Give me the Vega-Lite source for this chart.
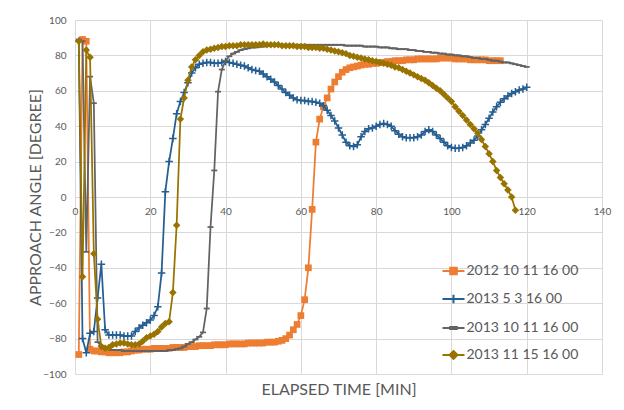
{
  "$schema": "https://vega.github.io/schema/vega-lite/v6.json",
  "width": 527,
  "height": 354,
  "autosize": {"type": "none"},
  "padding": {"left": 75, "top": 20, "right": 22, "bottom": 36},
  "background": "white",
  "config": {
    "view": {"stroke": null},
    "font": "Lato",
    "axis": {
      "gridColor": "#d9d9d9", "gridWidth": 1, "domain": false, "ticks": false,
      "labelColor": "#595959", "labelFontSize": 10, "labelFont": "Lato",
      "titleColor": "#595959", "titleFontSize": 16, "titleFontWeight": "normal", "titleFont": "Lato",
      "labelFlush": false, "labelOverlap": false, "labelBound": false
    },
    "legend": {
      "labelColor": "#595959", "labelFontSize": 14, "labelFont": "Lato",
      "symbolSize": 484, "symbolStrokeWidth": 2, "rowPadding": 8, "labelOffset": 1, "padding": 0
    }
  },
  "datasets": {
    "d": [
      {"s":"2012 10 11 16 00","t":1,"v":-89},{"s":"2012 10 11 16 00","t":2,"v":89},{"s":"2012 10 11 16 00","t":3,"v":88},{"s":"2012 10 11 16 00","t":4,"v":-86},{"s":"2012 10 11 16 00","t":5,"v":-87},{"s":"2012 10 11 16 00","t":6,"v":-87},{"s":"2012 10 11 16 00","t":7,"v":-87.5},{"s":"2012 10 11 16 00","t":8,"v":-87.5},{"s":"2012 10 11 16 00","t":9,"v":-88},{"s":"2012 10 11 16 00","t":10,"v":-88},
      {"s":"2012 10 11 16 00","t":11,"v":-88},{"s":"2012 10 11 16 00","t":12,"v":-88},{"s":"2012 10 11 16 00","t":13,"v":-87.5},{"s":"2012 10 11 16 00","t":14,"v":-87.5},{"s":"2012 10 11 16 00","t":15,"v":-87},{"s":"2012 10 11 16 00","t":16,"v":-86.5},{"s":"2012 10 11 16 00","t":17,"v":-86.5},{"s":"2012 10 11 16 00","t":18,"v":-86},{"s":"2012 10 11 16 00","t":19,"v":-86},{"s":"2012 10 11 16 00","t":20,"v":-86},
      {"s":"2012 10 11 16 00","t":21,"v":-85.5},{"s":"2012 10 11 16 00","t":22,"v":-85.5},{"s":"2012 10 11 16 00","t":23,"v":-85.5},{"s":"2012 10 11 16 00","t":24,"v":-85.5},{"s":"2012 10 11 16 00","t":25,"v":-85.5},{"s":"2012 10 11 16 00","t":26,"v":-85},{"s":"2012 10 11 16 00","t":27,"v":-85},{"s":"2012 10 11 16 00","t":28,"v":-85},{"s":"2012 10 11 16 00","t":29,"v":-85},{"s":"2012 10 11 16 00","t":30,"v":-84.5},
      {"s":"2012 10 11 16 00","t":31,"v":-84.5},{"s":"2012 10 11 16 00","t":32,"v":-84.5},{"s":"2012 10 11 16 00","t":33,"v":-84},{"s":"2012 10 11 16 00","t":34,"v":-84},{"s":"2012 10 11 16 00","t":35,"v":-84},{"s":"2012 10 11 16 00","t":36,"v":-84},{"s":"2012 10 11 16 00","t":37,"v":-83.5},{"s":"2012 10 11 16 00","t":38,"v":-83.5},{"s":"2012 10 11 16 00","t":39,"v":-83.5},{"s":"2012 10 11 16 00","t":40,"v":-83.5},
      {"s":"2012 10 11 16 00","t":41,"v":-83},{"s":"2012 10 11 16 00","t":42,"v":-83},{"s":"2012 10 11 16 00","t":43,"v":-83},{"s":"2012 10 11 16 00","t":44,"v":-83},{"s":"2012 10 11 16 00","t":45,"v":-83},{"s":"2012 10 11 16 00","t":46,"v":-82.5},{"s":"2012 10 11 16 00","t":47,"v":-82.5},{"s":"2012 10 11 16 00","t":48,"v":-82.5},{"s":"2012 10 11 16 00","t":49,"v":-82.5},{"s":"2012 10 11 16 00","t":50,"v":-82.5},
      {"s":"2012 10 11 16 00","t":51,"v":-82},{"s":"2012 10 11 16 00","t":52,"v":-82},{"s":"2012 10 11 16 00","t":53,"v":-82},{"s":"2012 10 11 16 00","t":54,"v":-81.5},{"s":"2012 10 11 16 00","t":55,"v":-81},{"s":"2012 10 11 16 00","t":56,"v":-80},{"s":"2012 10 11 16 00","t":57,"v":-78},{"s":"2012 10 11 16 00","t":58,"v":-75},{"s":"2012 10 11 16 00","t":59,"v":-72},{"s":"2012 10 11 16 00","t":60,"v":-67},
      {"s":"2012 10 11 16 00","t":61,"v":-58},{"s":"2012 10 11 16 00","t":62,"v":-40},{"s":"2012 10 11 16 00","t":63,"v":-7},{"s":"2012 10 11 16 00","t":64,"v":31},{"s":"2012 10 11 16 00","t":65,"v":44},{"s":"2012 10 11 16 00","t":66,"v":51},{"s":"2012 10 11 16 00","t":67,"v":56},{"s":"2012 10 11 16 00","t":68,"v":61},{"s":"2012 10 11 16 00","t":69,"v":65},{"s":"2012 10 11 16 00","t":70,"v":68},
      {"s":"2012 10 11 16 00","t":71,"v":70.5},{"s":"2012 10 11 16 00","t":72,"v":72},{"s":"2012 10 11 16 00","t":73,"v":73},{"s":"2012 10 11 16 00","t":74,"v":73.5},{"s":"2012 10 11 16 00","t":75,"v":74},{"s":"2012 10 11 16 00","t":76,"v":74.5},{"s":"2012 10 11 16 00","t":77,"v":75},{"s":"2012 10 11 16 00","t":78,"v":75},{"s":"2012 10 11 16 00","t":79,"v":75.5},{"s":"2012 10 11 16 00","t":80,"v":75.5},
      {"s":"2012 10 11 16 00","t":81,"v":76},{"s":"2012 10 11 16 00","t":82,"v":76},{"s":"2012 10 11 16 00","t":83,"v":76.5},{"s":"2012 10 11 16 00","t":84,"v":76.5},{"s":"2012 10 11 16 00","t":85,"v":77},{"s":"2012 10 11 16 00","t":86,"v":77},{"s":"2012 10 11 16 00","t":87,"v":77},{"s":"2012 10 11 16 00","t":88,"v":77.5},{"s":"2012 10 11 16 00","t":89,"v":77.5},{"s":"2012 10 11 16 00","t":90,"v":77.5},
      {"s":"2012 10 11 16 00","t":91,"v":78},{"s":"2012 10 11 16 00","t":92,"v":78},{"s":"2012 10 11 16 00","t":93,"v":78},{"s":"2012 10 11 16 00","t":94,"v":78},{"s":"2012 10 11 16 00","t":95,"v":78},{"s":"2012 10 11 16 00","t":96,"v":78},{"s":"2012 10 11 16 00","t":97,"v":78.5},{"s":"2012 10 11 16 00","t":98,"v":78.5},{"s":"2012 10 11 16 00","t":99,"v":78.5},{"s":"2012 10 11 16 00","t":100,"v":78.5},
      {"s":"2012 10 11 16 00","t":101,"v":78},{"s":"2012 10 11 16 00","t":102,"v":78},{"s":"2012 10 11 16 00","t":103,"v":78},{"s":"2012 10 11 16 00","t":104,"v":78},{"s":"2012 10 11 16 00","t":105,"v":77.5},{"s":"2012 10 11 16 00","t":106,"v":77.5},{"s":"2012 10 11 16 00","t":107,"v":77.5},{"s":"2012 10 11 16 00","t":108,"v":77.5},{"s":"2012 10 11 16 00","t":109,"v":77.5},{"s":"2012 10 11 16 00","t":110,"v":77},
      {"s":"2012 10 11 16 00","t":111,"v":77},{"s":"2012 10 11 16 00","t":112,"v":77},{"s":"2012 10 11 16 00","t":113,"v":77},

      {"s":"2013 5 3 16 00","t":1,"v":88},{"s":"2013 5 3 16 00","t":2,"v":-80},{"s":"2013 5 3 16 00","t":3,"v":-88},{"s":"2013 5 3 16 00","t":4,"v":-77},{"s":"2013 5 3 16 00","t":5,"v":-76},{"s":"2013 5 3 16 00","t":6,"v":-57},{"s":"2013 5 3 16 00","t":7,"v":-38},{"s":"2013 5 3 16 00","t":8,"v":-75},{"s":"2013 5 3 16 00","t":9,"v":-78},{"s":"2013 5 3 16 00","t":10,"v":-78},
      {"s":"2013 5 3 16 00","t":11,"v":-78},{"s":"2013 5 3 16 00","t":12,"v":-78},{"s":"2013 5 3 16 00","t":13,"v":-78.5},{"s":"2013 5 3 16 00","t":14,"v":-78.5},{"s":"2013 5 3 16 00","t":15,"v":-78.5},{"s":"2013 5 3 16 00","t":16,"v":-76},{"s":"2013 5 3 16 00","t":17,"v":-74},{"s":"2013 5 3 16 00","t":18,"v":-72.5},{"s":"2013 5 3 16 00","t":19,"v":-71},{"s":"2013 5 3 16 00","t":20,"v":-69.5},
      {"s":"2013 5 3 16 00","t":21,"v":-67},{"s":"2013 5 3 16 00","t":22,"v":-62},{"s":"2013 5 3 16 00","t":23,"v":-43},{"s":"2013 5 3 16 00","t":24,"v":3},{"s":"2013 5 3 16 00","t":25,"v":20},{"s":"2013 5 3 16 00","t":26,"v":33},{"s":"2013 5 3 16 00","t":27,"v":47},{"s":"2013 5 3 16 00","t":28,"v":54},{"s":"2013 5 3 16 00","t":29,"v":59},{"s":"2013 5 3 16 00","t":30,"v":64.5},
      {"s":"2013 5 3 16 00","t":31,"v":70},{"s":"2013 5 3 16 00","t":32,"v":73},{"s":"2013 5 3 16 00","t":33,"v":75},{"s":"2013 5 3 16 00","t":34,"v":75.5},{"s":"2013 5 3 16 00","t":35,"v":76},{"s":"2013 5 3 16 00","t":36,"v":76},{"s":"2013 5 3 16 00","t":37,"v":75.5},{"s":"2013 5 3 16 00","t":38,"v":75.5},{"s":"2013 5 3 16 00","t":39,"v":76},{"s":"2013 5 3 16 00","t":40,"v":76.5},
      {"s":"2013 5 3 16 00","t":41,"v":76},{"s":"2013 5 3 16 00","t":42,"v":75.5},{"s":"2013 5 3 16 00","t":43,"v":75},{"s":"2013 5 3 16 00","t":44,"v":74.5},{"s":"2013 5 3 16 00","t":45,"v":74},{"s":"2013 5 3 16 00","t":46,"v":73},{"s":"2013 5 3 16 00","t":47,"v":72},{"s":"2013 5 3 16 00","t":48,"v":71.5},{"s":"2013 5 3 16 00","t":49,"v":71},{"s":"2013 5 3 16 00","t":50,"v":69.5},
      {"s":"2013 5 3 16 00","t":51,"v":68},{"s":"2013 5 3 16 00","t":52,"v":66.5},{"s":"2013 5 3 16 00","t":53,"v":65},{"s":"2013 5 3 16 00","t":54,"v":63},{"s":"2013 5 3 16 00","t":55,"v":61},{"s":"2013 5 3 16 00","t":56,"v":59},{"s":"2013 5 3 16 00","t":57,"v":57.5},{"s":"2013 5 3 16 00","t":58,"v":56},{"s":"2013 5 3 16 00","t":59,"v":55},{"s":"2013 5 3 16 00","t":60,"v":54.5},
      {"s":"2013 5 3 16 00","t":61,"v":54.5},{"s":"2013 5 3 16 00","t":62,"v":54},{"s":"2013 5 3 16 00","t":63,"v":54},{"s":"2013 5 3 16 00","t":64,"v":53.5},{"s":"2013 5 3 16 00","t":65,"v":53},{"s":"2013 5 3 16 00","t":66,"v":51.5},{"s":"2013 5 3 16 00","t":67,"v":49},{"s":"2013 5 3 16 00","t":68,"v":46},{"s":"2013 5 3 16 00","t":69,"v":43},{"s":"2013 5 3 16 00","t":70,"v":39},
      {"s":"2013 5 3 16 00","t":71,"v":35},{"s":"2013 5 3 16 00","t":72,"v":31},{"s":"2013 5 3 16 00","t":73,"v":29},{"s":"2013 5 3 16 00","t":74,"v":28.5},{"s":"2013 5 3 16 00","t":75,"v":29.5},{"s":"2013 5 3 16 00","t":76,"v":34},{"s":"2013 5 3 16 00","t":77,"v":37},{"s":"2013 5 3 16 00","t":78,"v":38.5},{"s":"2013 5 3 16 00","t":79,"v":39},{"s":"2013 5 3 16 00","t":80,"v":40},
      {"s":"2013 5 3 16 00","t":81,"v":41},{"s":"2013 5 3 16 00","t":82,"v":41.5},{"s":"2013 5 3 16 00","t":83,"v":41},{"s":"2013 5 3 16 00","t":84,"v":40},{"s":"2013 5 3 16 00","t":85,"v":37.5},{"s":"2013 5 3 16 00","t":86,"v":35.5},{"s":"2013 5 3 16 00","t":87,"v":34},{"s":"2013 5 3 16 00","t":88,"v":33.5},{"s":"2013 5 3 16 00","t":89,"v":33.5},{"s":"2013 5 3 16 00","t":90,"v":33.5},
      {"s":"2013 5 3 16 00","t":91,"v":34},{"s":"2013 5 3 16 00","t":92,"v":35},{"s":"2013 5 3 16 00","t":93,"v":37},{"s":"2013 5 3 16 00","t":94,"v":38},{"s":"2013 5 3 16 00","t":95,"v":37},{"s":"2013 5 3 16 00","t":96,"v":35},{"s":"2013 5 3 16 00","t":97,"v":33},{"s":"2013 5 3 16 00","t":98,"v":31},{"s":"2013 5 3 16 00","t":99,"v":29},{"s":"2013 5 3 16 00","t":100,"v":28},
      {"s":"2013 5 3 16 00","t":101,"v":27.5},{"s":"2013 5 3 16 00","t":102,"v":27.5},{"s":"2013 5 3 16 00","t":103,"v":28},{"s":"2013 5 3 16 00","t":104,"v":29},{"s":"2013 5 3 16 00","t":105,"v":30.5},{"s":"2013 5 3 16 00","t":106,"v":32},{"s":"2013 5 3 16 00","t":107,"v":34.5},{"s":"2013 5 3 16 00","t":108,"v":38},{"s":"2013 5 3 16 00","t":109,"v":41},{"s":"2013 5 3 16 00","t":110,"v":44.5},
      {"s":"2013 5 3 16 00","t":111,"v":48},{"s":"2013 5 3 16 00","t":112,"v":51},{"s":"2013 5 3 16 00","t":113,"v":53.5},{"s":"2013 5 3 16 00","t":114,"v":55.5},{"s":"2013 5 3 16 00","t":115,"v":57},{"s":"2013 5 3 16 00","t":116,"v":58.5},{"s":"2013 5 3 16 00","t":117,"v":59.5},{"s":"2013 5 3 16 00","t":118,"v":60.5},{"s":"2013 5 3 16 00","t":119,"v":61},{"s":"2013 5 3 16 00","t":120,"v":62},

      {"s":"2013 10 11 16 00","t":1,"v":89},{"s":"2013 10 11 16 00","t":2,"v":88},{"s":"2013 10 11 16 00","t":3,"v":-31},{"s":"2013 10 11 16 00","t":4,"v":68},{"s":"2013 10 11 16 00","t":5,"v":53},{"s":"2013 10 11 16 00","t":6,"v":-82},{"s":"2013 10 11 16 00","t":7,"v":-84},{"s":"2013 10 11 16 00","t":8,"v":-85},{"s":"2013 10 11 16 00","t":9,"v":-86},{"s":"2013 10 11 16 00","t":10,"v":-86.5},
      {"s":"2013 10 11 16 00","t":11,"v":-86.5},{"s":"2013 10 11 16 00","t":12,"v":-86.5},{"s":"2013 10 11 16 00","t":13,"v":-87},{"s":"2013 10 11 16 00","t":14,"v":-87},{"s":"2013 10 11 16 00","t":15,"v":-87},{"s":"2013 10 11 16 00","t":16,"v":-87},{"s":"2013 10 11 16 00","t":17,"v":-87},{"s":"2013 10 11 16 00","t":18,"v":-87},{"s":"2013 10 11 16 00","t":19,"v":-87},{"s":"2013 10 11 16 00","t":20,"v":-87},
      {"s":"2013 10 11 16 00","t":21,"v":-87},{"s":"2013 10 11 16 00","t":22,"v":-87},{"s":"2013 10 11 16 00","t":23,"v":-87},{"s":"2013 10 11 16 00","t":24,"v":-87},{"s":"2013 10 11 16 00","t":25,"v":-86.5},{"s":"2013 10 11 16 00","t":26,"v":-86.5},{"s":"2013 10 11 16 00","t":27,"v":-86},{"s":"2013 10 11 16 00","t":28,"v":-85.5},{"s":"2013 10 11 16 00","t":29,"v":-84.5},{"s":"2013 10 11 16 00","t":30,"v":-83},
      {"s":"2013 10 11 16 00","t":31,"v":-82},{"s":"2013 10 11 16 00","t":32,"v":-80.5},{"s":"2013 10 11 16 00","t":33,"v":-79},{"s":"2013 10 11 16 00","t":34,"v":-76.5},{"s":"2013 10 11 16 00","t":35,"v":-63},{"s":"2013 10 11 16 00","t":36,"v":-17},{"s":"2013 10 11 16 00","t":37,"v":15},{"s":"2013 10 11 16 00","t":38,"v":59.5},{"s":"2013 10 11 16 00","t":39,"v":72},{"s":"2013 10 11 16 00","t":40,"v":77},
      {"s":"2013 10 11 16 00","t":41,"v":79.5},{"s":"2013 10 11 16 00","t":42,"v":81},{"s":"2013 10 11 16 00","t":43,"v":82},{"s":"2013 10 11 16 00","t":44,"v":83},{"s":"2013 10 11 16 00","t":45,"v":83.5},{"s":"2013 10 11 16 00","t":46,"v":84},{"s":"2013 10 11 16 00","t":47,"v":84.5},{"s":"2013 10 11 16 00","t":48,"v":84.5},{"s":"2013 10 11 16 00","t":49,"v":85},{"s":"2013 10 11 16 00","t":50,"v":85},
      {"s":"2013 10 11 16 00","t":51,"v":85.5},{"s":"2013 10 11 16 00","t":52,"v":85.5},{"s":"2013 10 11 16 00","t":53,"v":86},{"s":"2013 10 11 16 00","t":54,"v":86},{"s":"2013 10 11 16 00","t":55,"v":86},{"s":"2013 10 11 16 00","t":56,"v":86},{"s":"2013 10 11 16 00","t":57,"v":86},{"s":"2013 10 11 16 00","t":58,"v":86},{"s":"2013 10 11 16 00","t":59,"v":86},{"s":"2013 10 11 16 00","t":60,"v":86},
      {"s":"2013 10 11 16 00","t":61,"v":86},{"s":"2013 10 11 16 00","t":62,"v":86},{"s":"2013 10 11 16 00","t":63,"v":86},{"s":"2013 10 11 16 00","t":64,"v":86},{"s":"2013 10 11 16 00","t":65,"v":86},{"s":"2013 10 11 16 00","t":66,"v":86},{"s":"2013 10 11 16 00","t":67,"v":86},{"s":"2013 10 11 16 00","t":68,"v":86},{"s":"2013 10 11 16 00","t":69,"v":86},{"s":"2013 10 11 16 00","t":70,"v":86},
      {"s":"2013 10 11 16 00","t":71,"v":86},{"s":"2013 10 11 16 00","t":72,"v":85.5},{"s":"2013 10 11 16 00","t":73,"v":85.5},{"s":"2013 10 11 16 00","t":74,"v":85.5},{"s":"2013 10 11 16 00","t":75,"v":85.5},{"s":"2013 10 11 16 00","t":76,"v":85.5},{"s":"2013 10 11 16 00","t":77,"v":85},{"s":"2013 10 11 16 00","t":78,"v":85},{"s":"2013 10 11 16 00","t":79,"v":85},{"s":"2013 10 11 16 00","t":80,"v":85},
      {"s":"2013 10 11 16 00","t":81,"v":84.5},{"s":"2013 10 11 16 00","t":82,"v":84.5},{"s":"2013 10 11 16 00","t":83,"v":84.5},{"s":"2013 10 11 16 00","t":84,"v":84},{"s":"2013 10 11 16 00","t":85,"v":84},{"s":"2013 10 11 16 00","t":86,"v":83.5},{"s":"2013 10 11 16 00","t":87,"v":83.5},{"s":"2013 10 11 16 00","t":88,"v":83.5},{"s":"2013 10 11 16 00","t":89,"v":83},{"s":"2013 10 11 16 00","t":90,"v":83},
      {"s":"2013 10 11 16 00","t":91,"v":82.5},{"s":"2013 10 11 16 00","t":92,"v":82.5},{"s":"2013 10 11 16 00","t":93,"v":82},{"s":"2013 10 11 16 00","t":94,"v":82},{"s":"2013 10 11 16 00","t":95,"v":81.5},{"s":"2013 10 11 16 00","t":96,"v":81.5},{"s":"2013 10 11 16 00","t":97,"v":81},{"s":"2013 10 11 16 00","t":98,"v":81},{"s":"2013 10 11 16 00","t":99,"v":80.5},{"s":"2013 10 11 16 00","t":100,"v":80.5},
      {"s":"2013 10 11 16 00","t":101,"v":80},{"s":"2013 10 11 16 00","t":102,"v":80},{"s":"2013 10 11 16 00","t":103,"v":79.5},{"s":"2013 10 11 16 00","t":104,"v":79.5},{"s":"2013 10 11 16 00","t":105,"v":79},{"s":"2013 10 11 16 00","t":106,"v":78.5},{"s":"2013 10 11 16 00","t":107,"v":78.5},{"s":"2013 10 11 16 00","t":108,"v":78},{"s":"2013 10 11 16 00","t":109,"v":78},{"s":"2013 10 11 16 00","t":110,"v":77.5},
      {"s":"2013 10 11 16 00","t":111,"v":77},{"s":"2013 10 11 16 00","t":112,"v":77},{"s":"2013 10 11 16 00","t":113,"v":76.5},{"s":"2013 10 11 16 00","t":114,"v":76},{"s":"2013 10 11 16 00","t":115,"v":76},{"s":"2013 10 11 16 00","t":116,"v":75.5},{"s":"2013 10 11 16 00","t":117,"v":75},{"s":"2013 10 11 16 00","t":118,"v":74.5},{"s":"2013 10 11 16 00","t":119,"v":74},{"s":"2013 10 11 16 00","t":120,"v":73.5},

      {"s":"2013 11 15 16 00","t":1,"v":88},{"s":"2013 11 15 16 00","t":2,"v":-45},{"s":"2013 11 15 16 00","t":3,"v":83},{"s":"2013 11 15 16 00","t":4,"v":79},{"s":"2013 11 15 16 00","t":5,"v":-32},{"s":"2013 11 15 16 00","t":6,"v":-69},{"s":"2013 11 15 16 00","t":7,"v":-84.5},{"s":"2013 11 15 16 00","t":8,"v":-85.5},{"s":"2013 11 15 16 00","t":9,"v":-85},{"s":"2013 11 15 16 00","t":10,"v":-83.5},
      {"s":"2013 11 15 16 00","t":11,"v":-83},{"s":"2013 11 15 16 00","t":12,"v":-82.5},{"s":"2013 11 15 16 00","t":13,"v":-82.5},{"s":"2013 11 15 16 00","t":14,"v":-83},{"s":"2013 11 15 16 00","t":15,"v":-83.5},{"s":"2013 11 15 16 00","t":16,"v":-83.5},{"s":"2013 11 15 16 00","t":17,"v":-83},{"s":"2013 11 15 16 00","t":18,"v":-81.5},{"s":"2013 11 15 16 00","t":19,"v":-79.5},{"s":"2013 11 15 16 00","t":20,"v":-78.5},
      {"s":"2013 11 15 16 00","t":21,"v":-77.5},{"s":"2013 11 15 16 00","t":22,"v":-76},{"s":"2013 11 15 16 00","t":23,"v":-73.5},{"s":"2013 11 15 16 00","t":24,"v":-71.5},{"s":"2013 11 15 16 00","t":25,"v":-70.5},{"s":"2013 11 15 16 00","t":26,"v":-54},{"s":"2013 11 15 16 00","t":27,"v":-16},{"s":"2013 11 15 16 00","t":28,"v":44},{"s":"2013 11 15 16 00","t":29,"v":56},{"s":"2013 11 15 16 00","t":30,"v":66},
      {"s":"2013 11 15 16 00","t":31,"v":73.5},{"s":"2013 11 15 16 00","t":32,"v":77.5},{"s":"2013 11 15 16 00","t":33,"v":80},{"s":"2013 11 15 16 00","t":34,"v":82},{"s":"2013 11 15 16 00","t":35,"v":83},{"s":"2013 11 15 16 00","t":36,"v":83.5},{"s":"2013 11 15 16 00","t":37,"v":84},{"s":"2013 11 15 16 00","t":38,"v":84.5},{"s":"2013 11 15 16 00","t":39,"v":85},{"s":"2013 11 15 16 00","t":40,"v":85},
      {"s":"2013 11 15 16 00","t":41,"v":85.5},{"s":"2013 11 15 16 00","t":42,"v":85.5},{"s":"2013 11 15 16 00","t":43,"v":85.5},{"s":"2013 11 15 16 00","t":44,"v":86},{"s":"2013 11 15 16 00","t":45,"v":86},{"s":"2013 11 15 16 00","t":46,"v":86},{"s":"2013 11 15 16 00","t":47,"v":86},{"s":"2013 11 15 16 00","t":48,"v":86},{"s":"2013 11 15 16 00","t":49,"v":86},{"s":"2013 11 15 16 00","t":50,"v":86.5},
      {"s":"2013 11 15 16 00","t":51,"v":86},{"s":"2013 11 15 16 00","t":52,"v":86},{"s":"2013 11 15 16 00","t":53,"v":86},{"s":"2013 11 15 16 00","t":54,"v":86},{"s":"2013 11 15 16 00","t":55,"v":85.5},{"s":"2013 11 15 16 00","t":56,"v":85.5},{"s":"2013 11 15 16 00","t":57,"v":85.5},{"s":"2013 11 15 16 00","t":58,"v":85.5},{"s":"2013 11 15 16 00","t":59,"v":85},{"s":"2013 11 15 16 00","t":60,"v":85},
      {"s":"2013 11 15 16 00","t":61,"v":85},{"s":"2013 11 15 16 00","t":62,"v":84.5},{"s":"2013 11 15 16 00","t":63,"v":84.5},{"s":"2013 11 15 16 00","t":64,"v":84.5},{"s":"2013 11 15 16 00","t":65,"v":84},{"s":"2013 11 15 16 00","t":66,"v":84},{"s":"2013 11 15 16 00","t":67,"v":83.5},{"s":"2013 11 15 16 00","t":68,"v":83},{"s":"2013 11 15 16 00","t":69,"v":82.5},{"s":"2013 11 15 16 00","t":70,"v":82},
      {"s":"2013 11 15 16 00","t":71,"v":81.5},{"s":"2013 11 15 16 00","t":72,"v":81},{"s":"2013 11 15 16 00","t":73,"v":80},{"s":"2013 11 15 16 00","t":74,"v":79.5},{"s":"2013 11 15 16 00","t":75,"v":79},{"s":"2013 11 15 16 00","t":76,"v":78.5},{"s":"2013 11 15 16 00","t":77,"v":78},{"s":"2013 11 15 16 00","t":78,"v":77.5},{"s":"2013 11 15 16 00","t":79,"v":77},{"s":"2013 11 15 16 00","t":80,"v":76.5},
      {"s":"2013 11 15 16 00","t":81,"v":76},{"s":"2013 11 15 16 00","t":82,"v":75.5},{"s":"2013 11 15 16 00","t":83,"v":75},{"s":"2013 11 15 16 00","t":84,"v":74.5},{"s":"2013 11 15 16 00","t":85,"v":73.5},{"s":"2013 11 15 16 00","t":86,"v":73},{"s":"2013 11 15 16 00","t":87,"v":72},{"s":"2013 11 15 16 00","t":88,"v":71},{"s":"2013 11 15 16 00","t":89,"v":70},{"s":"2013 11 15 16 00","t":90,"v":69},
      {"s":"2013 11 15 16 00","t":91,"v":68},{"s":"2013 11 15 16 00","t":92,"v":67},{"s":"2013 11 15 16 00","t":93,"v":66},{"s":"2013 11 15 16 00","t":94,"v":64.5},{"s":"2013 11 15 16 00","t":95,"v":63},{"s":"2013 11 15 16 00","t":96,"v":61.5},{"s":"2013 11 15 16 00","t":97,"v":60},{"s":"2013 11 15 16 00","t":98,"v":58},{"s":"2013 11 15 16 00","t":99,"v":56},{"s":"2013 11 15 16 00","t":100,"v":54},
      {"s":"2013 11 15 16 00","t":101,"v":51},{"s":"2013 11 15 16 00","t":102,"v":48.5},{"s":"2013 11 15 16 00","t":103,"v":46},{"s":"2013 11 15 16 00","t":104,"v":43.5},{"s":"2013 11 15 16 00","t":105,"v":41},{"s":"2013 11 15 16 00","t":106,"v":38.5},{"s":"2013 11 15 16 00","t":107,"v":36},{"s":"2013 11 15 16 00","t":108,"v":32.5},{"s":"2013 11 15 16 00","t":109,"v":28.5},{"s":"2013 11 15 16 00","t":110,"v":24.5},
      {"s":"2013 11 15 16 00","t":111,"v":20},{"s":"2013 11 15 16 00","t":112,"v":15},{"s":"2013 11 15 16 00","t":113,"v":11},{"s":"2013 11 15 16 00","t":114,"v":7.5},{"s":"2013 11 15 16 00","t":115,"v":4},{"s":"2013 11 15 16 00","t":116,"v":0},{"s":"2013 11 15 16 00","t":117,"v":-7.5}
    ]
  },
  "data": {"name": "d"},
  "encoding": {
    "x": {
      "field": "t", "type": "quantitative",
      "scale": {"domain": [0, 140], "nice": false, "zero": false},
      "axis": {
        "values": [0, 20, 40, 60, 80, 100, 120, 140], "grid": true,
        "title": "ELAPSED TIME [MIN]", "labelPadding": -168,
        "titleX": 263.5, "titleY": 15, "titleBaseline": "middle", "titleAlign": "center", "titleAnchor": null
      }
    },
    "y": {
      "field": "v", "type": "quantitative",
      "scale": {"domain": [-100, 100], "nice": false, "zero": false},
      "axis": {
        "values": [-100, -80, -60, -40, -20, 0, 20, 40, 60, 80, 100], "grid": true,
        "title": "APPROACH ANGLE [DEGREE]", "labelPadding": 9,
        "titleX": -40, "titleY": 177, "titleAngle": -90, "titleBaseline": "middle", "titleAlign": "center", "titleAnchor": null
      }
    }
  },
  "layer": [
    {
      "transform": [{"filter": "datum.s === '2012 10 11 16 00'"}],
      "mark": {"type": "line", "strokeWidth": 1.75, "color": "#ED7D31",
               "point": {"shape": "square", "filled": true, "size": 45, "opacity": 1, "color": "#ED7D31"}}
    },
    {
      "transform": [{"filter": "datum.s === '2013 5 3 16 00'"}],
      "mark": {"type": "line", "strokeWidth": 1.75, "color": "#255E91",
               "point": {"shape": "M-1,0H1M0,-1V1", "filled": false, "size": 56, "opacity": 1, "strokeWidth": 1.5, "color": "#255E91"}}
    },
    {
      "transform": [{"filter": "datum.s === '2013 10 11 16 00'"}],
      "mark": {"type": "line", "strokeWidth": 1.75, "color": "#636363",
               "point": {"shape": "M-1,0H1", "filled": false, "size": 36, "opacity": 1, "strokeWidth": 1.75, "color": "#636363"}}
    },
    {
      "transform": [{"filter": "datum.s === '2013 11 15 16 00'"}],
      "mark": {"type": "line", "strokeWidth": 1.75, "color": "#997300",
               "point": {"shape": "diamond", "filled": true, "size": 56, "opacity": 1, "color": "#997300"}}
    },
    {
      "transform": [{"filter": "datum.t === 1"}],
      "mark": {"type": "point", "filled": true, "strokeWidth": 2, "opacity": 1, "size": 0},
      "encoding": {
        "shape": {
          "field": "s", "type": "nominal",
          "scale": {"domain": ["2012 10 11 16 00", "2013 5 3 16 00", "2013 10 11 16 00", "2013 11 15 16 00"],
                    "range": ["M-1,0H1M-0.3,-0.3H0.3V0.3H-0.3Z", "M-1,0H1M0,-0.38V0.38", "M-1,0H1M-0.3,-0.08H0.3V0.08H-0.3Z", "M-1,0H1M0,-0.36L0.36,0L0,0.36L-0.36,0Z"]},
          "legend": {"title": null, "orient": "none", "legendX": 366.5, "legendY": 239}
        },
        "fill": {
          "field": "s", "type": "nominal",
          "scale": {"domain": ["2012 10 11 16 00", "2013 5 3 16 00", "2013 10 11 16 00", "2013 11 15 16 00"], "range": ["#ED7D31", "#255E91", "#636363", "#997300"]},
          "legend": {"title": null, "orient": "none", "legendX": 366.5, "legendY": 239}
        },
        "stroke": {
          "field": "s", "type": "nominal",
          "scale": {"domain": ["2012 10 11 16 00", "2013 5 3 16 00", "2013 10 11 16 00", "2013 11 15 16 00"], "range": ["#ED7D31", "#255E91", "#636363", "#997300"]},
          "legend": {"title": null, "orient": "none", "legendX": 366.5, "legendY": 239}
        }
      }
    }
  ]
}
